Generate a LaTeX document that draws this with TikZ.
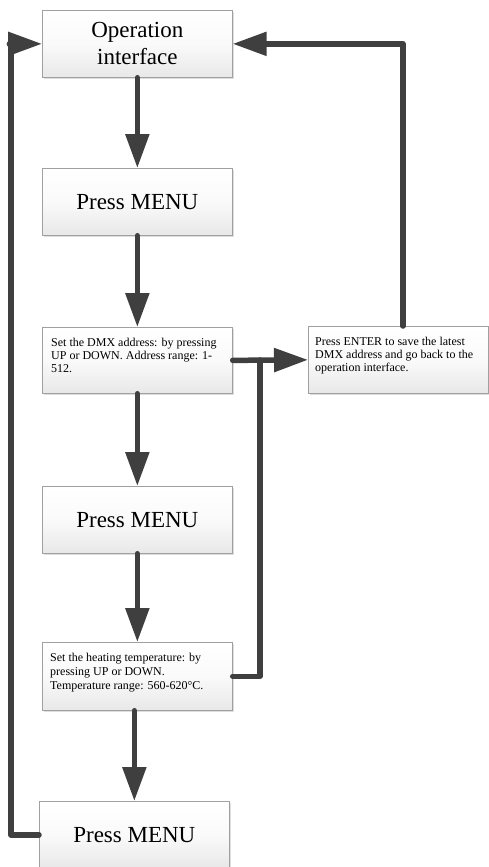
\documentclass[tikz,border=0pt]{standalone}
\usepackage{fontspec}
\setmainfont{Liberation Serif}
\usetikzlibrary{arrows.meta,shadows,calc}
\definecolor{arr}{HTML}{3F3F3F}
\definecolor{bord}{HTML}{A0A0A0}
\begin{document}
\begin{tikzpicture}[x=1pt,y=-1pt,
 box/.style={draw=bord, line width=0.7pt, top color=white, bottom color=black!9,
   middle color=black!2,
   drop shadow={shadow xshift=1.8pt, shadow yshift=-1.8pt, fill=black!25, opacity=0.5},
   minimum width=190pt, minimum height=67pt, inner sep=0pt, anchor=north west},
 big/.style={font=\fontsize{23}{27}\selectfont, align=center},
 small/.style={font=\fontsize{12}{13.3}\selectfont, align=left, anchor=north west, inner sep=0pt},
 flow/.style={draw=arr, line width=5.5pt, line cap=round, line join=round, -{Triangle[length=34pt,width=23pt]}},
 link/.style={draw=arr, line width=5.5pt, line cap=round, line join=round}]
\useasboundingbox (0,0) rectangle (489,867);
\fill[white] (0,0) rectangle (489,867);
\node[box,big] (op) at (42,10) {Operation\\interface};
\node[box,big] (m1) at (42,168) {Press MENU};
\node[box, minimum height=66pt] (dmx) at (42,327) {};
\node[box, minimum width=180pt] (ent) at (308,326) {};
\node[box,big] (m2) at (42,486) {Press MENU};
\node[box, minimum height=68pt] (heat) at (42,642) {};
\node[box,big] (m3) at (39,801) {Press MENU};
\node[small] (dmxt) at ($(dmx.north west)+(9,10.8)$) {Set the DMX address: by pressing\\UP or DOWN. Address range: 1-\\512.};
\node[small] (entt) at ($(ent.north west)+(7,10.8)$) {Press ENTER to save the latest\\DMX address and go back to the\\operation interface.};
\node[small, font=\fontsize{12}{14}\selectfont] (heatt) at ($(heat.north west)+(8,10.8)$) {Set the heating temperature: by\\pressing UP or DOWN.\\Temperature range: 560-620°C.};
\draw[flow] (op.south) -- (m1.north);
\draw[flow] (m1.south) -- (dmx.north);
\draw[flow] (dmx.south) -- (m2.north);
\draw[flow] (m2.south) -- (heat.north);
\draw[flow] (heat.south -| m3.north) -- (m3.north);
\draw[flow] (dmx.east) -- (ent.west);
\coordinate (jn) at (260,360);
\draw[link] (heat.east) -| (jn);
\coordinate (er) at (403,326);
\draw[flow] (er) |- (op.east);
\draw[flow] (m3.west) -- ++(-28,0) |- (op.west);
\end{tikzpicture}
\end{document}
